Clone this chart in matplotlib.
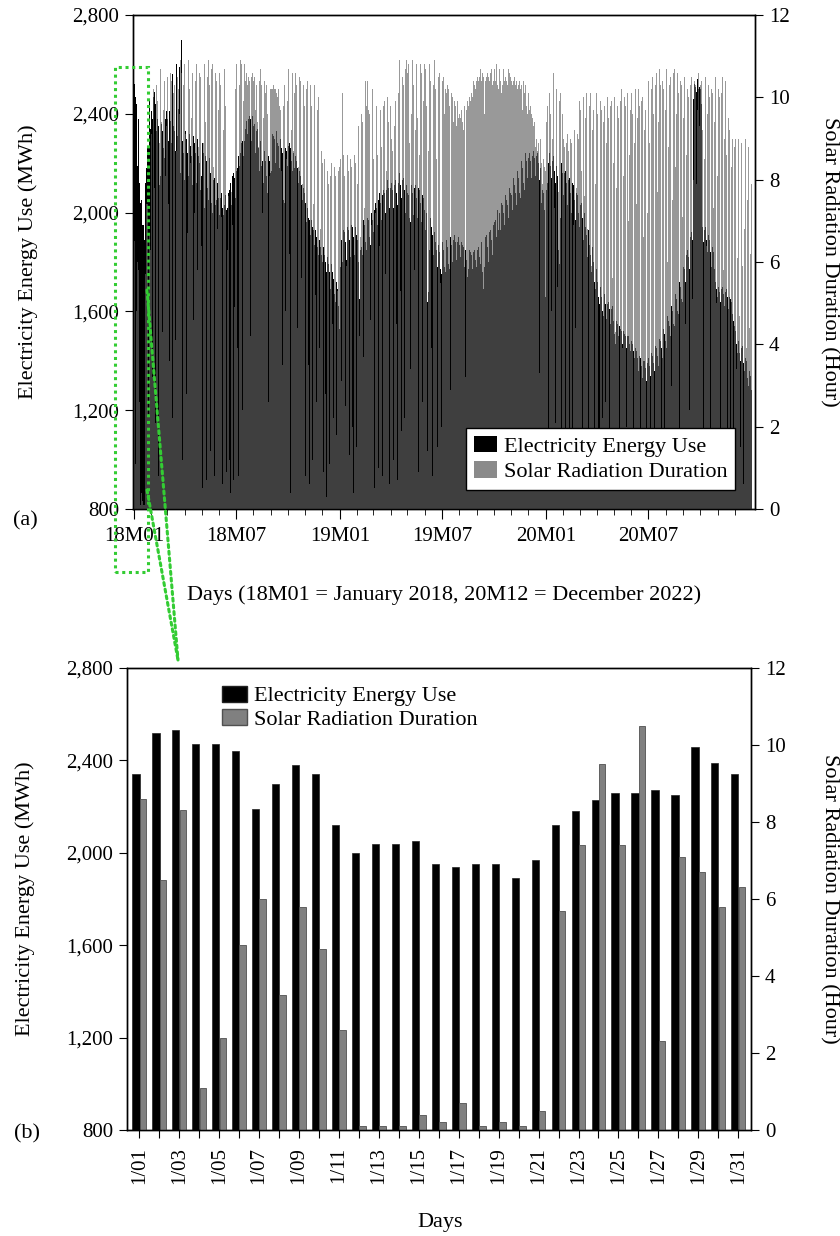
import numpy as np
import pandas as pd
import matplotlib
matplotlib.use("Agg")
import matplotlib.pyplot as plt
from matplotlib.ticker import FuncFormatter
from matplotlib.patches import Patch, Rectangle
from matplotlib.lines import Line2D

plt.rcParams['font.family'] = ['Liberation Serif', 'DejaVu Serif']

# --- January 2018 detail (panel b) ---
jan_days = list(range(1, 32))
jan_elec = [2340, 2520, 2530, 2470, 2470, 2440, 2190, 2300, 2380, 2340,
            2120, 2000, 2040, 2040, 2050, 1950, 1940, 1950, 1950, 1890,
            1970, 2120, 2180, 2230, 2260, 2260, 2270, 2250, 2460, 2390, 2340]
jan_solar = [8.6, 6.5, 8.3, 1.1, 2.4, 4.8, 6.0, 3.5, 5.8, 4.7,
             2.6, 0.1, 0.1, 0.1, 0.4, 0.2, 0.7, 0.1, 0.2, 0.1,
             0.5, 5.7, 7.4, 9.5, 7.4, 10.5, 2.3, 7.1, 6.7, 5.8, 6.3]

# --- Daily electricity use (MWh), one line per month (2018 starts in February) ---
elec_2018 = """
2410 2450 2380 2300 2470 2520 2490 2440 2400 2330 2290 2380 2420 2350 2110 2060 2150 2290 2360 2400 2330 2310 2260 2220 2300 2380 2350 2410
2460 2380 2290 2320 2410 2440 2370 2300 2280 2210 2560 2350 2400 2330 2290 2250 2180 2600 2310 2380 2420 2360 2590 2210 2160 2700 2340 2290 2260 2240 2170
2130 2280 2330 2300 2260 2240 2190 2150 2290 2320 2270 2250 2230 2160 2110 2260 2310 2290 2280 2240 2180 2120 2250 2300 2270 2230 2200 2140 2090 2220
2150 2260 2280 2240 2060 2020 2130 2230 2250 2210 2190 2100 2050 2180 2220 2200 2160 2120 2040 2000 2060 2130 2170 2140 2090 2030 1980 2050 2120 2100 2060
2040 1990 1960 2060 2080 1970 2020 2050 1990 1950 2030 2070 1980 2010 2060 2020 1970 2080 2110 2090 2120 2070 2030 2110 2150 2180 2160 2140 2090 2060
2050 2170 2200 2180 2230 2250 2190 2140 2240 2260 2280 2300 2290 2230 2180 2290 2320 2340 2350 2370 2320 2270 2380 2400 2390 2410 2380 2330 2290 2390 2410
2350 2380 2360 2300 2240 2330 2350 2340 2290 2260 2200 2170 2290 2260 2190 2240 2210 2160 2120 2230 2250 2210 2190 2150 2110 2080 2200 2230 2210 2180 2160
2200 2170 2290 2320 2340 2310 2300 2240 2200 2290 2330 2310 2280 2270 2220 2180 2280 2300 2290 2260 2240 2130 2050 2010 2040 2200 2260 2280 2250 2190
2250 2270 2190 2280 2300 2260 2210 2230 2170 2250 2240 2220 2180 2140 2230 2210 2190 2180 2160 2120 2080 2170 2150 2140 2110 2090 2050 2010 2100 2080 2060
2040 2010 1960 1930 2020 2000 1980 1970 1950 1910 1880 1970 1960 1940 1930 1900 1870 1840 1930 1920 1900 1890 1860 1830 1800 1890 1880 1860 1850 1830
1800 1770 1860 1850 1830 1820 1800 1760 1730 1820 1810 1790 1780 1760 1720 1690 1790 1780 1760 1750 1730 1700 1670 1640 1600 1720 1710 1690 1660 1620 1560
"""
elec_2019 = """
1530 1780 1860 1890 1840 1800 1910 1930 1920 1900 1880 1840 1810 1920 1940 1930 1910 1890 1850 1820 1930 1950 1960 1940 1900 1860 1830 1920 1940 1930 1910
1890 1840 1800 1720 1650 1690 1850 1900 1860 1830 1940 1970 1960 1950 1930 1880 1850 1960 1980 1990 1970 1950 1900 1870 1980 2000 1990 1970
1960 1920 1880 2010 2040 2030 2020 1990 1950 1910 2050 2080 2060 2040 2010 1970 1930 2070 2100 2090 2080 2040 2000 1960 2090 2120 2130 2100 2070 2020 1980
2100 2130 2120 2090 2070 2020 1990 2110 2140 2130 2120 2080 2030 2000 2120 2150 2160 2140 2110 2060 2020 2130 2150 2140 2120 2090 2040 2000 2110 2130
2080 2100 2070 2010 1980 1960 2090 2110 2100 2080 2030 1990 2100 2120 2110 2090 2060 2010 1980 2080 2100 2090 2070 2040 1990 1960 2050 2070 2060 2040 2010
1960 1930 2020 2000 1970 1640 1680 1870 1850 1990 1980 1960 1940 1910 1860 1830 1940 1920 1900 1880 1850 1800 1780 1890 1870 1860 1840 1810 1770 1750
1860 1880 1870 1850 1820 1780 1760 1870 1890 1880 1860 1830 1790 1770 1880 1900 1890 1870 1840 1800 1780 1890 1910 1900 1880 1850 1810 1790 1880 1900 1890
1870 1860 1820 1790 1880 1890 1870 1860 1820 1780 1760 1850 1870 1810 1740 1720 1770 1760 1850 1860 1840 1830 1800 1770 1750 1840 1860 1850 1830 1810 1780
1760 1850 1870 1860 1850 1820 1790 1770 1880 1890 1760 1700 1690 1720 1780 1900 1920 1910 1890 1860 1820 1800 1920 1940 1930 1910 1890 1850 1830 1950
1970 1960 1880 1970 1930 1900 2000 2010 1930 2010 2000 1960 1930 2030 2040 2030 2020 2000 1970 1950 2060 2070 2060 2050 2030 2000 1980 2090 2100 2090 2080
2070 2040 2010 2120 2140 2130 2110 2080 2050 2030 2150 2170 2160 2140 2110 2080 2060 2190 2210 2200 2180 2150 2120 2090 2220 2240 2230 2210 2180 2140
2100 2220 2240 2230 2210 2180 2140 2110 2230 2250 2240 2220 2190 2150 2120 2230 2240 2230 2200 2170 2130 2100 2180 2190 2040 2090 2120 2080 2040 2010 1860
"""
elec_2020 = """
1660 2090 2150 2120 2080 2200 2230 2240 2220 2190 2140 2100 2210 2240 2230 2210 2170 2120 2080 2190 2200 2150 2040 1850 1790 1820 1980 2170 2200 2190 2160
2110 2070 2160 2180 2170 2150 2120 2070 2030 2130 2150 2140 2110 2080 2040 2000 2100 2120 2110 2090 2050 2000 1970 2060 2080 2070 2040 2000 1960
1940 1900 2030 2040 2010 1980 1940 1890 1980 2000 1970 1940 1910 1850 1820 1920 1930 1900 1870 1830 1790 1760 1850 1860 1830 1800 1760 1720 1690 1780 1770
1740 1720 1700 1660 1630 1690 1700 1680 1660 1640 1600 1580 1660 1670 1650 1630 1600 1570 1540 1630 1640 1620 1610 1590 1550 1530 1610 1620 1600 1560
1530 1510 1480 1470 1490 1560 1550 1530 1500 1470 1540 1550 1530 1520 1500 1470 1440 1520 1530 1510 1500 1480 1450 1430 1500 1510 1500 1490 1470 1440 1420
1480 1490 1470 1460 1440 1410 1390 1450 1460 1440 1430 1410 1380 1360 1420 1430 1410 1400 1380 1350 1330 1400 1410 1400 1380 1370 1340 1320 1390 1400
1410 1400 1380 1350 1340 1420 1430 1420 1410 1390 1370 1360 1440 1460 1450 1430 1420 1390 1380 1470 1490 1480 1470 1450 1420 1410 1510 1530 1520 1510 1480
1460 1450 1560 1580 1570 1560 1540 1510 1500 1600 1620 1610 1600 1580 1550 1540 1650 1670 1660 1650 1630 1600 1590 1700 1720 1710 1700 1680 1650 1640 1760
1780 1790 1770 1750 1720 1700 1830 1850 1840 1820 1800 1770 1760 1900 1920 1910 1890 2050 2460 2500 2520 2530 2510 2490 2520 2540 2520 2500 2480 2510
2500 2470 2440 1960 1940 1910 1880 1930 1950 1940 1920 1890 1860 1840 1900 1910 1890 1870 1840 1800 1780 1850 1860 1840 1810 1770 1740 1720 1700 1690 1680
1660 1700 1690 1680 1670 1640 1620 1690 1700 1680 1670 1650 1620 1600 1680 1690 1670 1660 1640 1610 1590 1660 1670 1650 1640 1620 1590 1570 1560 1550
1540 1520 1500 1470 1450 1430 1500 1480 1460 1430 1400 1380 1450 1600 1460 1420 1390 1360 1340 1410 1420 1400 1370 1330 1300 1290 1360 1370 1340 1310 1280
"""

# --- Daily solar radiation duration (hours), one line per month (2018 starts in February) ---
solar_2018 = """
9.1 8.7 3.2 9.6 10.2 10.4 7.8 2.1 9.8 10.3 10.6 9.9 5.4 0.8 8.9 10.1 10.7 6.2 9.4 10.0 4.3 1.5 9.7 10.4 10.8 8.1 2.7 9.3
10.2 10.5 7.4 0.9 3.6 9.8 10.6 10.9 10.4 6.3 2.2 10.1 10.7 10.3 9.2 4.1 0.6 8.7 10.5 10.8 10.2 5.5 9.6 10.4 10.9 10.6 3.4 1.2 7.9 10.3 10.7
10.8 10.5 9.1 2.8 0.4 6.7 10.6 10.9 10.7 10.2 8.4 3.1 9.5 10.8 10.6 10.9 4.6 0.3 7.2 10.4 10.7 10.8 9.9 5.8 1.7 8.8 10.6 10.9 10.5 9.3
6.4 2.0 0.5 8.9 10.7 10.8 10.6 9.4 3.3 0.7 7.5 10.5 10.9 10.8 10.3 5.2 1.4 9.6 10.7 10.8 10.6 8.3 2.9 0.8 9.1 10.6 10.9 10.4 6.8 2.5 9.7
10.8 10.6 10.9 10.3 7.1 1.8 0.6 4.4 9.2 10.5 10.7 9.8 3.7 0.9 2.5 6.3 8.0 7.6 5.1 1.2 0.4 3.8 7.7 8.2 6.9 2.1 0.7 4.9 9.4 10.2
10.6 10.8 9.5 3.9 0.8 6.1 10.3 10.7 10.9 10.5 10.8 8.6 2.4 9.9 10.6 10.8 10.7 10.4 10.9 10.6 10.3 9.8 10.5 10.7 10.4 8.9 4.2 9.6 10.5 10.6 10.3
10.4 10.6 10.5 10.2 9.7 10.3 10.1 9.4 5.3 8.8 10.0 10.4 10.7 10.5 10.3 9.8 7.2 3.1 9.5 10.2 10.4 10.1 9.9 10.3 10.0 9.6 6.4 2.6 8.1 9.9 10.2
10.1 10.2 10.3 10.2 10.1 10.3 10.2 10.0 10.2 10.3 10.1 9.9 10.0 10.2 10.1 9.8 10.0 9.7 9.9 8.2 3.5 7.6 9.8 10.1 10.3 9.6 4.8 1.3 8.5 9.9
10.4 10.7 10.3 6.2 1.5 0.4 9.2 10.5 10.6 10.2 8.7 3.3 10.1 10.4 10.6 10.3 9.7 4.4 0.9 8.3 10.2 10.5 10.4 9.5 5.6 1.8 7.9 10.1 10.3 9.8 4.7
0.8 6.9 10.2 10.6 10.4 9.1 3.5 0.6 8.8 10.3 10.5 9.8 4.1 1.2 7.4 9.9 10.3 9.6 5.2 0.7 2.6 8.3 9.7 10.0 9.4 3.9 0.5 6.8 9.2 8.7
8.4 4.6 0.9 7.1 8.5 8.3 2.8 0.3 6.4 8.2 8.5 7.9 3.2 1.1 5.7 8.1 8.4 8.0 4.5 0.6 2.2 7.6 8.3 8.1 6.9 1.8 0.4 5.3 8.0 8.2 7.7
"""
solar_2019 = """
8.3 8.5 7.6 3.1 0.8 10.1 8.4 8.6 8.1 11.0 2.5 0.5 5.9 8.3 8.6 8.2 4.4 1.3 7.1 8.5 8.7 8.3 6.0 2.0 0.4 6.8 8.6 8.8 8.4 5.3 1.5
7.9 9.0 9.3 8.8 4.2 0.9 6.6 9.2 9.6 9.4 10.1 3.7 0.6 7.3 9.5 10.4 9.8 5.0 10.4 8.1 9.7 10.0 9.6 4.6 0.7 6.9 9.8 10.2
9.9 8.5 3.0 0.5 7.2 9.6 9.8 9.4 8.6 2.7 1.0 6.4 9.3 9.7 9.5 8.8 4.0 0.8 7.5 9.8 9.9 9.6 5.7 1.6 8.2 9.7 10.0 9.4 3.6 0.6 7.8
9.8 9.5 9.0 8.7 3.8 1.2 7.6 9.3 9.6 9.9 9.2 4.5 0.7 8.4 10.1 10.6 10.9 9.7 5.3 1.9 8.8 10.5 10.8 10.3 6.6 2.2 9.4 10.7 10.9 10.4
10.6 10.9 10.8 10.5 8.9 3.4 1.0 9.6 10.7 10.9 10.8 10.3 5.8 2.1 9.2 10.6 10.8 10.7 9.5 4.3 0.9 8.6 10.4 10.8 10.9 10.6 7.1 2.6 9.9 10.7 10.8
10.9 10.7 10.5 9.8 6.2 1.4 8.7 10.6 10.8 10.9 10.4 9.1 3.9 0.8 7.8 10.3 10.7 10.9 10.6 10.2 8.5 4.7 1.5 9.4 10.5 10.8 10.6 9.7 5.5 2.0
8.9 10.4 10.6 10.5 10.3 9.6 10.2 10.4 10.1 9.9 10.3 10.5 10.2 9.8 7.4 2.9 9.5 10.1 10.3 10.0 9.7 9.4 9.9 10.1 9.8 9.6 9.3 9.7 9.9 9.5 9.4
9.6 9.8 9.5 9.3 9.7 9.9 9.4 9.2 9.6 9.8 9.5 3.2 8.4 9.7 9.9 10.1 9.8 9.6 10.0 10.2 9.9 10.1 10.3 10.0 10.2 10.4 10.1 10.3 10.5 10.2 10.4
10.3 10.5 10.6 10.4 10.2 10.5 10.7 10.6 10.4 10.3 10.6 10.8 10.5 4.1 9.6 10.4 10.6 10.5 10.3 10.6 10.7 10.5 10.4 10.2 10.6 10.8 10.7 10.5 10.3 10.4
10.6 10.7 10.5 10.4 10.6 10.8 10.5 10.3 10.2 10.5 10.7 10.6 10.4 5.7 10.1 10.3 10.5 10.7 10.6 10.4 10.2 10.5 10.6 10.4 10.3 10.5 10.7 10.8 10.6 10.4 10.5
10.4 10.5 10.3 10.6 10.4 10.2 10.5 10.3 10.6 10.4 9.8 10.2 10.5 10.3 10.1 10.4 10.2 10.6 10.3 10.0 9.7 10.2 10.4 10.1 9.9 10.3 10.2 9.8 10.0 9.6
9.9 10.1 9.7 9.5 9.8 9.4 9.6 9.2 9.5 9.3 9.0 9.4 9.1 8.8 9.2 9.0 8.7 9.1 8.9 8.5 3.3 8.8 9.0 8.6 8.4 7.9 2.4 8.5 8.8 8.3 8.1
"""
solar_2020 = """
8.2 9.4 10.6 9.8 3.6 0.9 8.7 10.1 10.3 9.6 4.8 1.2 9.0 10.4 10.6 9.9 7.3 2.1 8.8 10.2 9.7 5.4 0.6 7.7 9.9 10.5 10.1 4.2 1.3 8.9 9.6
9.3 9.0 8.8 4.1 0.7 6.5 8.9 9.8 9.1 8.7 3.5 1.1 7.6 9.0 9.4 8.9 5.2 0.8 6.9 8.8 9.2 8.6 4.4 1.5 7.8 9.1 9.7 9.0 3.8
9.9 10.1 9.7 8.2 2.9 0.8 9.3 10.0 9.8 7.6 3.4 9.5 10.1 9.9 6.8 1.7 0.5 8.7 9.8 10.1 9.6 5.9 2.3 9.2 10.0 9.7 4.6 1.0 7.9 9.9 10.1
9.8 9.6 6.1 1.8 0.6 8.6 9.9 10.1 9.7 4.9 2.2 9.4 10.0 9.8 7.3 2.6 0.9 8.9 9.7 10.0 9.5 3.8 1.4 7.7 9.8 10.1 9.9 5.6 1.1 8.4
9.9 10.0 9.6 4.3 0.7 7.8 9.8 10.1 9.5 6.2 1.6 9.1 9.9 10.2 9.7 3.9 0.8 8.1 9.6 10.0 9.8 5.3 2.0 9.3 10.1 9.9 7.0 1.3 8.6 9.7 10.0
10.1 10.2 9.6 4.7 1.5 8.9 10.0 10.2 9.9 7.4 2.3 9.5 10.1 10.2 9.8 5.0 0.9 8.3 9.9 10.2 10.0 6.6 1.7 9.2 10.1 9.7 3.5 0.6 7.2 9.8
10.4 10.6 8.9 2.8 0.7 6.9 10.2 10.5 10.7 9.6 4.1 1.2 9.0 10.3 10.6 10.4 7.7 2.5 9.4 10.5 10.7 10.3 5.2 0.8 8.2 10.4 10.6 10.2 6.3 1.9 9.7
10.5 10.7 10.4 6.0 1.4 8.8 10.3 10.6 10.5 9.1 3.0 0.6 7.5 10.2 10.6 10.7 10.4 8.3 2.7 9.6 10.5 10.6 10.1 5.8 1.0 9.0 10.4 10.6 10.3 7.1 2.2
9.5 10.3 10.5 10.2 4.5 1.1 8.6 10.2 10.4 10.0 6.7 2.4 9.3 10.3 10.5 10.1 5.1 0.9 8.0 10.2 10.4 10.5 10.3 7.9 3.6 9.7 10.4 10.6 10.2 9.3
10.3 10.5 10.4 10.1 9.2 3.7 0.8 8.5 10.3 10.5 10.2 6.4 1.9 9.6 10.4 10.3 10.0 4.2 1.2 8.8 10.2 10.4 10.1 7.3 2.1 9.4 10.3 10.5 9.9 5.0 0.7
8.1 10.2 10.4 10.0 4.9 1.3 7.8 10.1 10.5 9.7 5.8 1.6 9.0 10.3 10.4 8.6 3.1 0.5 6.6 9.5 9.8 9.2 4.0 1.1 8.3 9.4 9.0 5.5 1.7 7.2
8.8 9.0 8.6 3.4 0.8 6.1 8.7 9.0 8.4 4.7 1.5 7.3 8.9 8.5 5.9 2.0 0.6 6.8 8.6 9.0 8.2 3.9 1.0 7.5 8.8 8.3 4.4 1.2 6.2 8.5 7.9
"""


def parse_months(block):
    return [[float(v) for v in line.split()] for line in block.strip().splitlines()]


start = pd.Timestamp('2018-01-01')
month_starts = pd.date_range('2018-01-01', periods=36, freq='MS')
month_pos = np.asarray((month_starts - start).days)

elec_months = [jan_elec] + parse_months(elec_2018) + parse_months(elec_2019) + parse_months(elec_2020)
solar_months = [jan_solar] + parse_months(solar_2018) + parse_months(solar_2019) + parse_months(solar_2020)


def daily(months):
    x = np.concatenate([p + np.arange(len(m)) for p, m in zip(month_pos, months)])
    y = np.concatenate([np.asarray(m, dtype=float) for m in months])
    return x, y


x_elec, y_elec = daily(elec_months)
x_solar, y_solar = daily(solar_months)

# --- Figure ---
fig = plt.figure(figsize=(8.4, 12.36), dpi=100)
W, H = 840, 1236


def px_axes(left, top, right, bottom):
    return fig.add_axes([left / W, 1 - bottom / H, (right - left) / W, (bottom - top) / H])


tick_fs = 15
label_fs = 16
thousands = FuncFormatter(lambda v, p: f"{int(v):,}")

# --- Panel (a): three years of daily data ---
ax1 = px_axes(133, 15, 755, 509)
ax1.bar(x_elec, y_elec - 800, bottom=800, width=1.0, color='black', linewidth=0)
ax1.set_ylim(800, 2800)
ax1.set_xlim(-1.5, 1101)
ax1.set_yticks(np.arange(800, 2801, 400))
ax1.yaxis.set_major_formatter(thousands)

ax1b = ax1.twinx()
ax1b.bar(x_solar, y_solar, width=1.0, color='#626262', alpha=0.65, linewidth=0)
ax1b.set_ylim(0, 12)
ax1b.set_yticks(np.arange(0, 13, 2))

major_pos = month_pos[::6]
major_labels = [f"{d:%y}M{d:%m}" for d in month_starts[::6]]
ax1.set_xticks(major_pos)
ax1.set_xticklabels(major_labels)
ax1.set_xticks([p for p in month_pos if p not in major_pos], minor=True)
ax1.tick_params(axis='x', which='major', length=7, pad=6, labelsize=tick_fs, direction='out')
ax1.tick_params(axis='x', which='minor', length=4, direction='out')
ax1.tick_params(axis='y', length=6, pad=4, labelsize=tick_fs)
ax1b.tick_params(axis='y', length=6, pad=4, labelsize=tick_fs)

ax1b.legend(handles=[Patch(facecolor='black'), Patch(facecolor='#8a8a8a')],
            labels=['Electricity Energy Use', 'Solar Radiation Duration'],
            loc='lower right', bbox_to_anchor=(0.968, 0.0385), borderaxespad=0,
            fontsize=label_fs, frameon=True, fancybox=False, edgecolor='black',
            framealpha=1, handlelength=1.05, handleheight=0.75, handletextpad=0.3,
            labelspacing=0.2, borderpad=0.35).get_frame().set_linewidth(1.0)

fig.text(28 / W, 1 - 262 / H, 'Electricity Energy Use (MWh)', rotation=90,
         ha='center', va='center', fontsize=label_fs)
fig.text(829 / W, 1 - 262 / H, 'Solar Radiation Duration (Hour)', rotation=-90,
         ha='center', va='center', fontsize=label_fs)
fig.text(444 / W, 1 - 595 / H, 'Days (18M01 = January 2018, 20M12 = December 2022)',
         ha='center', va='center', fontsize=label_fs)
fig.text(25 / W, 1 - 521 / H, '(a)', ha='center', va='center', fontsize=label_fs)

# --- Panel (b): January 2018 ---
ax2 = px_axes(127, 668, 751, 1130)
days = np.asarray(jan_days)
ax2.bar(days - 0.17, np.asarray(jan_elec) - 800, bottom=800, width=0.36,
        color='black', edgecolor='#222222', linewidth=0.5)
ax2.set_ylim(800, 2800)
ax2.set_xlim(0.38, 31.64)
ax2.set_yticks(np.arange(800, 2801, 400))
ax2.yaxis.set_major_formatter(thousands)

ax2b = ax2.twinx()
ax2b.bar(days + 0.18, jan_solar, width=0.33, color='#808080',
         edgecolor='#505050', linewidth=0.6)
ax2b.set_ylim(0, 12)
ax2b.set_yticks(np.arange(0, 13, 2))

ax2.set_xticks(days)
ax2.set_xticklabels([f"1/{d:02d}" if d % 2 == 1 else '' for d in jan_days], rotation=90)
ax2.tick_params(axis='x', length=6, pad=6, labelsize=tick_fs)
ax2.tick_params(axis='y', length=6, pad=4, labelsize=tick_fs)
ax2b.tick_params(axis='y', length=6, pad=4, labelsize=tick_fs)

ax2b.legend(handles=[Patch(facecolor='black', edgecolor='#222222'),
                     Patch(facecolor='#808080', edgecolor='#505050')],
            labels=['Electricity Energy Use', 'Solar Radiation Duration'],
            loc='upper left', bbox_to_anchor=(0.152, 0.962), borderaxespad=0,
            fontsize=label_fs, frameon=False, handlelength=1.13, handleheight=0.75,
            handletextpad=0.3, labelspacing=0.1, borderpad=0)

fig.text(25 / W, 1 - 899 / H, 'Electricity Energy Use (MWh)', rotation=90,
         ha='center', va='center', fontsize=label_fs)
fig.text(829 / W, 1 - 899 / H, 'Solar Radiation Duration (Hour)', rotation=-90,
         ha='center', va='center', fontsize=label_fs)
fig.text(440 / W, 1 - 1222 / H, 'Days', ha='center', va='center', fontsize=label_fs)
fig.text(27 / W, 1 - 1134 / H, '(b)', ha='center', va='center', fontsize=label_fs)

for ax in (ax1, ax1b, ax2, ax2b):
    for s in ax.spines.values():
        s.set_linewidth(1.0)

# --- Zoom call-out linking January 2018 to panel (b) ---
green = '#33cc33'
dots = (0, (1, 1.2))
fig.add_artist(Rectangle((115 / W, 1 - 572 / H), 33 / W, 505 / H, transform=fig.transFigure,
                         fill=False, edgecolor=green, linewidth=2.2, linestyle=dots,
                         zorder=10))
for y0 in (290, 490):
    fig.add_artist(Line2D([147 / W, 178 / W], [1 - y0 / H, 1 - 660 / H],
                          transform=fig.transFigure, color=green, linewidth=2.2,
                          linestyle=dots, dash_capstyle='round', zorder=10))

fig.savefig('out.png', dpi=100, facecolor='white')
